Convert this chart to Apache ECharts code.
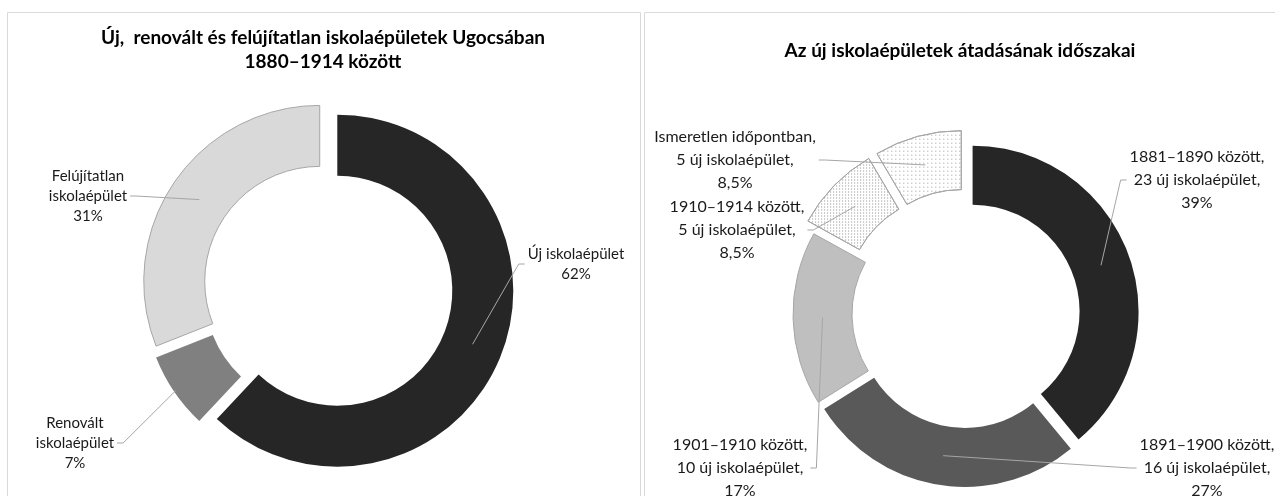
<!DOCTYPE html>
<html lang="hu">
<head>
<meta charset="utf-8">
<script src="https://cdn.jsdelivr.net/npm/echarts@6/dist/echarts.min.js"></script>
<style>
    html, body { margin: 0; padding: 0; background: #fff; }
    #main { width: 1275px; height: 496px; }
</style>
</head>
<body>
<div id="main"></div>
<script>
    // bal oldali kör: új, renovált, felújítatlan épületek aránya (%)
    var buildingTypes = ['Új iskolaépület', 'Renovált\niskolaépület', 'Felújítatlan\niskolaépület'];
    var buildingShares = [62, 7, 31];

    // jobb oldali kör: az új épületek átadásának időszakai
    var periods = ['1881–1890 között', '1891–1900 között', '1901–1910 között', '1910–1914 között', 'Ismeretlen időpontban'];
    var newBuildings = [23, 16, 10, 5, 5];
    var periodShares = ['39%', '27%', '17%', '8,5%', '8,5%'];

    // layout
    var leftGeo = { center: [328, 287], radius: [115, 176], offset: 10 };
    var rightGeo = { center: [966, 314], radius: [107, 166], offset: 7, dotOffset: 18 };
    var leftLabelPos = [[576, 264], [75, 443], [88, 196]];
    var rightLabelPos = [[1197, 180], [1207, 468], [740, 468], [737, 230], [735, 160]];

    var sparseDots = { symbol: 'rect', symbolSize: 1, dashArrayX: [1, 3], dashArrayY: [1, 3], rotation: 0, color: '#9a9a9a' };
    var denseDots = { symbol: 'rect', symbolSize: 1, dashArrayX: [1, 2], dashArrayY: [1, 2], rotation: 0, color: '#8c8c8c' };
    var border = { borderColor: '#a6a6a6', borderWidth: 1 };
    var hidden = { color: 'rgba(0,0,0,0)', borderWidth: 0 };

    var leftStyles = [
        { color: '#262626' },
        { color: '#808080' },
        Object.assign({ color: '#d9d9d9' }, border)
    ];
    var rightStyles = [
        { color: '#262626' },
        { color: '#595959' },
        Object.assign({ color: '#bfbfbf' }, border),
        Object.assign({ color: '#ffffff', decal: denseDots }, border),
        Object.assign({ color: '#ffffff', decal: sparseDots }, border)
    ];
    var rightDotted = [false, false, false, true, true];

    function midAngles(values) {
        var sum = values.reduce(function (a, b) { return a + b; }, 0);
        var acc = 0;
        return values.map(function (v) {
            var a = (acc + v / 2) / sum * Math.PI * 2;
            acc += v;
            return a;
        });
    }

    // leader lines start inside the slice, a bit out from mid-ring
    function leaderStarts(geo, values, offsets) {
        var rm = (geo.radius[0] + geo.radius[1]) / 2;
        return midAngles(values).map(function (a, i) {
            var r = rm + offsets[i];
            return [geo.center[0] + r * Math.sin(a), geo.center[1] - r * Math.cos(a)];
        });
    }

    function labelPlacer(pos, starts) {
        return function (p) {
            var i = p.dataIndex;
            var c = pos[i];
            var s = starts[i];
            var w = p.labelRect.width;
            var toRight = c[0] > s[0];
            var ex = toRight ? c[0] - w / 2 - 3 : c[0] + w / 2 + 3;
            var stub = toRight ? ex - 6 : ex + 6;
            return {
                x: c[0],
                y: c[1],
                align: 'center',
                verticalAlign: 'middle',
                labelLinePoints: [s, [stub, c[1]], [ex, c[1]]]
            };
        };
    }

    var leftStarts = leaderStarts(leftGeo, buildingShares, [10, 38, 10]);
    var rightStarts = leaderStarts(rightGeo, newBuildings, rightDotted.map(function (d) {
        return d ? rightGeo.dotOffset : rightGeo.offset;
    }));

    function slicePie(geo, offset, data) {
        return {
            type: 'pie',
            center: geo.center,
            radius: geo.radius,
            startAngle: 90,
            clockwise: true,
            selectedMode: 'multiple',
            selectedOffset: offset,
            silent: true,
            animation: false,
            emphasis: { disabled: true },
            label: { show: false },
            labelLine: { show: false },
            data: data
        };
    }

    function labelPie(geo, names, values, formatter, fontSize, lineHeight, placer) {
        return {
            type: 'pie',
            z: 5,
            center: geo.center,
            radius: geo.radius,
            startAngle: 90,
            clockwise: true,
            silent: true,
            animation: false,
            avoidLabelOverlap: false,
            emphasis: { disabled: true },
            itemStyle: hidden,
            label: {
                show: true,
                position: 'outside',
                formatter: formatter,
                fontFamily: 'Lato',
                fontSize: fontSize,
                lineHeight: lineHeight,
                color: '#1a1a1a'
            },
            labelLine: { show: true, lineStyle: { color: '#a6a6a6', width: 1 } },
            labelLayout: placer,
            data: values.map(function (v, i) { return { value: v, name: names[i] }; })
        };
    }

    var chart = echarts.init(document.getElementById('main'));
    chart.setOption({
        animation: false,
        graphic: [
            { type: 'rect', z: -10, shape: { x: 7.5, y: 12.5, width: 633, height: 600 }, style: { fill: 'none', stroke: '#d9d9d9', lineWidth: 1 } },
            { type: 'rect', z: -10, shape: { x: 644.5, y: 12.5, width: 700, height: 600 }, style: { fill: 'none', stroke: '#d9d9d9', lineWidth: 1 } },
            {
                type: 'text', x: 323, y: 50,
                style: {
                    text: 'Új,  renovált és felújítatlan iskolaépületek Ugocsában\n1880–1914 között',
                    fontFamily: 'Lato', fontSize: 19, fontWeight: 'bold', lineHeight: 24,
                    fill: '#000', align: 'center', verticalAlign: 'middle'
                }
            },
            {
                type: 'text', x: 960, y: 51,
                style: {
                    text: 'Az új iskolaépületek átadásának időszakai',
                    fontFamily: 'Lato', fontSize: 19, fontWeight: 'bold',
                    fill: '#000', align: 'center', verticalAlign: 'middle'
                }
            }
        ],
        series: [
            slicePie(leftGeo, leftGeo.offset, buildingShares.map(function (v, i) {
                return { value: v, name: buildingTypes[i], selected: true, itemStyle: leftStyles[i], select: { itemStyle: leftStyles[i] } };
            })),
            slicePie(rightGeo, rightGeo.offset, newBuildings.map(function (v, i) {
                var st = rightDotted[i] ? hidden : rightStyles[i];
                return { value: v, name: periods[i], selected: true, itemStyle: st, select: { itemStyle: st } };
            })),
            slicePie(rightGeo, rightGeo.dotOffset, newBuildings.map(function (v, i) {
                var st = rightDotted[i] ? rightStyles[i] : hidden;
                return { value: v, name: periods[i], selected: true, itemStyle: st, select: { itemStyle: st } };
            })),
            labelPie(leftGeo, buildingTypes, buildingShares, '{b}\n{c}%', 15, 20, labelPlacer(leftLabelPos, leftStarts)),
            labelPie(rightGeo, periods, newBuildings, function (p) {
                return p.name + ',\n' + p.value + ' új iskolaépület,\n' + periodShares[p.dataIndex];
            }, 16, 23, labelPlacer(rightLabelPos, rightStarts))
        ]
    });
</script>
</body>
</html>
